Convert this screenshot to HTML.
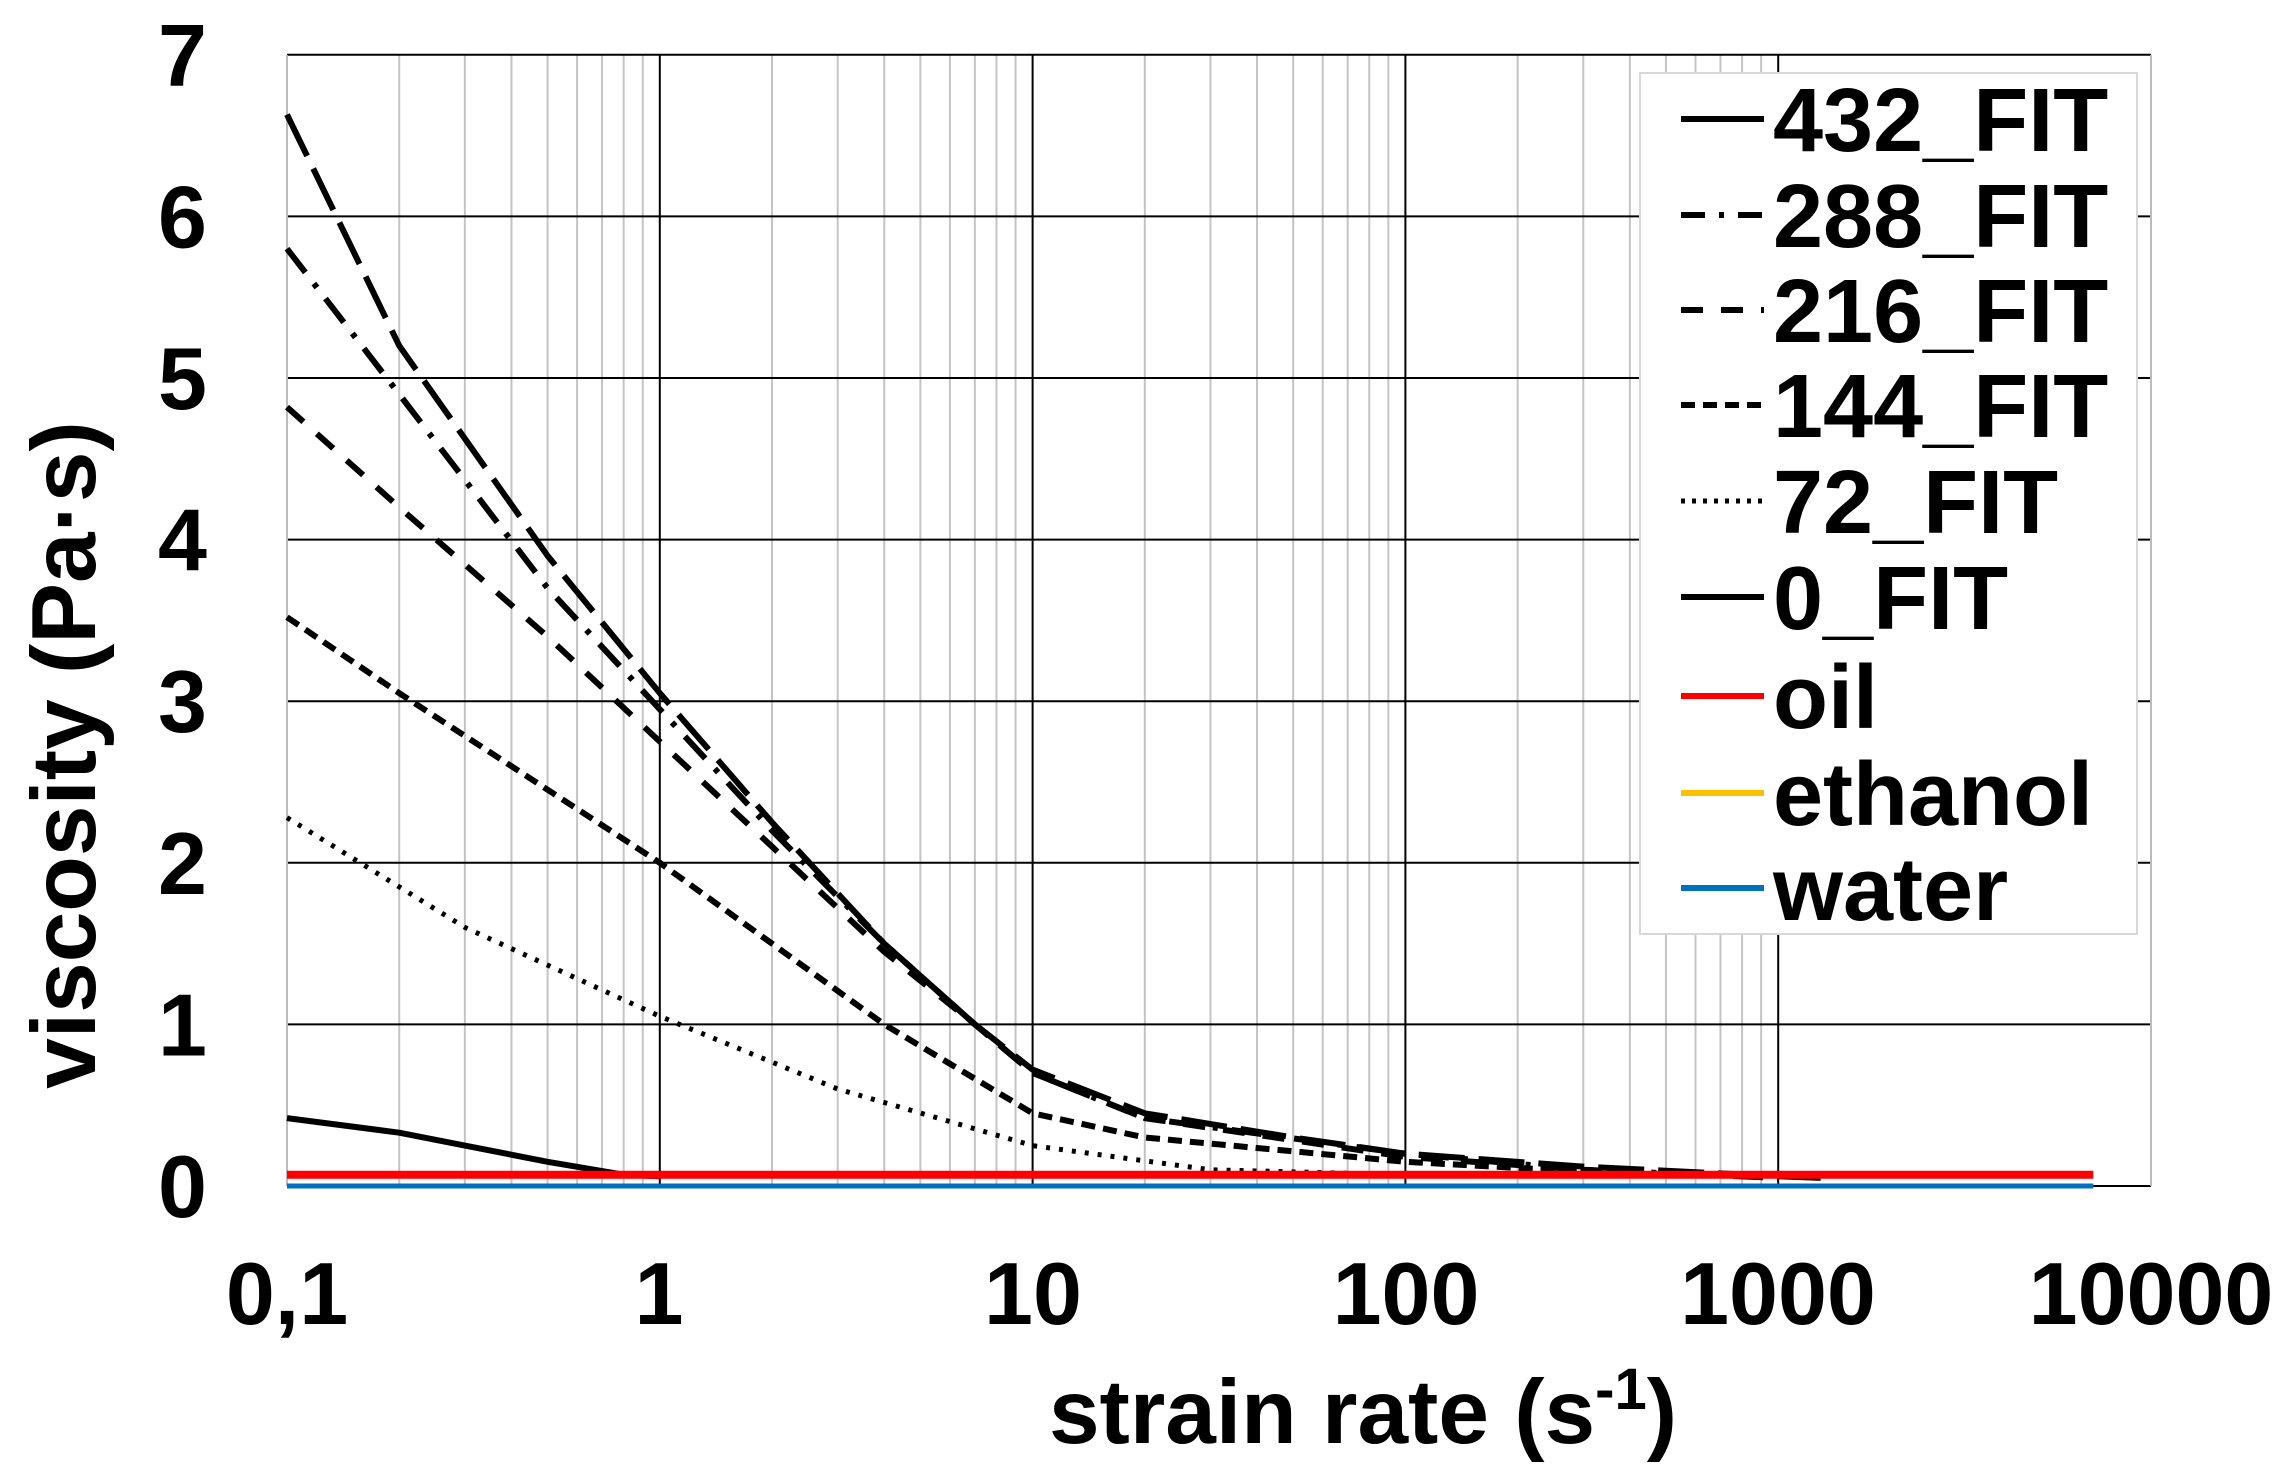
<!DOCTYPE html>
<html><head><meta charset="utf-8"><style>
html,body{margin:0;padding:0;background:#fff;}
svg{display:block;font-family:"Liberation Sans",Arial,sans-serif;font-weight:bold;}
</style></head><body>
<svg id="s" width="2282" height="1483" viewBox="0 0 2282 1483" xmlns="http://www.w3.org/2000/svg">
<rect width="2282" height="1483" fill="#fff"/>
<g id="grid"></g>
<g id="series" fill="none" stroke-width="6" stroke-linejoin="round"></g>
<rect x="1640" y="73" width="497" height="861" fill="#fff" stroke="#d8d8d8" stroke-width="2"/>
<g font-size="90" fill="#000">
<line x1="1681" y1="119" x2="1764" y2="119" stroke="#000" stroke-width="6"/><text x="1773" y="151">432_FIT</text>
<line x1="1681" y1="215" x2="1764" y2="215" stroke="#000" stroke-width="6" stroke-dasharray="24,14,5,14"/><text x="1773" y="247">288_FIT</text>
<line x1="1681" y1="310" x2="1764" y2="310" stroke="#000" stroke-width="6" stroke-dasharray="22,18"/><text x="1773" y="342">216_FIT</text>
<line x1="1681" y1="405" x2="1764" y2="405" stroke="#000" stroke-width="6" stroke-dasharray="14,8"/><text x="1773" y="437">144_FIT</text>
<line x1="1681" y1="501" x2="1764" y2="501" stroke="#000" stroke-width="5" stroke-dasharray="4,7"/><text x="1773" y="533">72_FIT</text>
<line x1="1681" y1="597" x2="1764" y2="597" stroke="#000" stroke-width="6"/><text x="1773" y="629">0_FIT</text>
<line x1="1681" y1="696" x2="1764" y2="696" stroke="#ff0000" stroke-width="6"/><text x="1773" y="728">oil</text>
<line x1="1681" y1="793" x2="1764" y2="793" stroke="#ffc000" stroke-width="6"/><text x="1773" y="825">ethanol</text>
<line x1="1681" y1="888" x2="1764" y2="888" stroke="#0070c0" stroke-width="6"/><text x="1773" y="920">water</text>
</g>
<g font-size="88" fill="#000" text-anchor="end" id="yl"></g>
<g font-size="88" fill="#000" text-anchor="middle">
<text x="287" y="1324">0,1</text><text x="659" y="1324">1</text><text x="1033" y="1324">10</text>
<text x="1406" y="1324">100</text><text x="1778" y="1324">1000</text><text x="2151" y="1324">10000</text>
</g>
<text x="1363" y="1443" font-size="91" text-anchor="middle">strain rate (s<tspan font-size="58" dy="-34">-1</tspan><tspan dy="34">)</tspan></text>
<text transform="translate(95,755) rotate(-90)" font-size="91" text-anchor="middle">viscosity (Pa·s)</text>
</svg>
<script>
var NS="http://www.w3.org/2000/svg";
function X(v){return 287+372.8*Math.log10(v/0.1);}
function Y(v){return 1186-161.6*v;}
function el(p,t,a){var e=document.createElementNS(NS,t);for(var k in a)e.setAttribute(k,a[k]);p.appendChild(e);return e;}
var g=document.getElementById("grid");
for(var d=-1;d<3;d++){for(var m=2;m<10;m++){var x=X(m*Math.pow(10,d));el(g,"line",{x1:x,x2:x,y1:55,y2:1186,stroke:"#c4c4c4","stroke-width":2});}}
for(var i=0;i<=7;i++){el(g,"line",{x1:287,x2:2151,y1:Y(i),y2:Y(i),stroke:"#000","stroke-width":2});}
[1,10,100,1000].forEach(function(v){el(g,"line",{x1:X(v),x2:X(v),y1:55,y2:1186,stroke:"#000","stroke-width":2});});
el(g,"line",{x1:287,x2:287,y1:55,y2:1186,stroke:"#bbb","stroke-width":2});
el(g,"line",{x1:2151,x2:2151,y1:55,y2:1186,stroke:"#bbb","stroke-width":2});
var yl=document.getElementById("yl");
for(var i=0;i<=7;i++){var t=el(yl,"text",{x:207,y:Y(i)+31});t.textContent=i;}
var S=document.getElementById("series");
function path(pts,da,c,w){var d=pts.map(function(p,i){return (i?"L":"M")+X(p[0]).toFixed(1)+","+Y(p[1]).toFixed(1);}).join("");var a={d:d,stroke:c||"#000"};if(da)a["stroke-dasharray"]=da;if(w)a["stroke-width"]=w;el(S,"path",a);}
path([[0.1,0.42],[0.2,0.33],[0.5,0.15],[0.8,0.07],[1,0.06]]);
path([[0.1,2.28],[0.3,1.6],[1,1.05],[3,0.6],[10,0.25],[30,0.1],[100,0.07]],"4,9",null,5);
path([[0.1,3.52],[0.2,3.05],[1,2.0],[4,1.0],[10,0.45],[20,0.3],[100,0.15],[300,0.09]],"14,8");
path([[0.1,4.82],[0.2,4.2],[0.5,3.4],[1,2.75],[2,2.1],[4,1.45],[7,1.0],[10,0.7],[20,0.42],[100,0.18],[300,0.1],[800,0.06]],"22,18");
path([[0.1,5.8],[0.2,4.9],[0.5,3.7],[1,2.95],[2,2.2],[4,1.5],[7,1.0],[10,0.7],[20,0.42],[100,0.2],[300,0.1],[1000,0.05]],"30,14,5,14");
path([[0.1,6.63],[0.2,5.2],[0.5,3.9],[1,3.05],[2,2.25],[4,1.5],[7,1.0],[10,0.72],[20,0.45],[50,0.3],[100,0.2],[300,0.12],[1000,0.06],[1300,0.05]],"46,14");
path([[0.1,0.0],[7000,0.0]],null,"#0070c0",5);
path([[0.1,0.07],[7000,0.07]],null,"#ff0000",8);
</script>
</body></html>
